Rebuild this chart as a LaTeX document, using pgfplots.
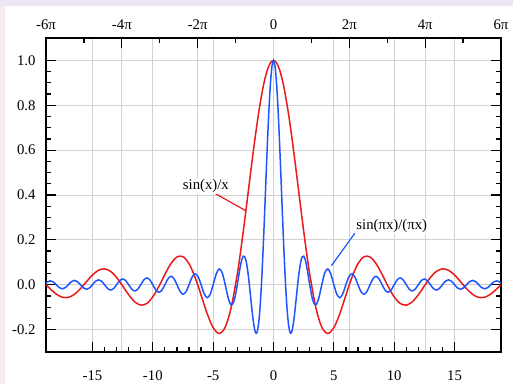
\documentclass[border=0pt]{standalone}
\usepackage{pgfplots}
\pgfplotsset{compat=1.18}
\usepackage{fontspec}
\setmainfont{Liberation Serif}
\definecolor{cred}{RGB}{235,25,25}
\definecolor{cblue}{RGB}{30,85,255}
\definecolor{gridc}{RGB}{210,210,210}
\definecolor{lav}{RGB}{236,230,246}
\definecolor{pinkish}{RGB}{249,234,242}
\newcommand{\fs}{\fontsize{14.8}{17}\selectfont}
\pgfplotstableread{
x y
-18.85 0.00000
-18.5 -0.01851
-18 -0.04172
-17.5 -0.05575
-17 -0.05655
-16.5 -0.04314
-16 -0.01799
-15.5 0.01332
-15 0.04335
-14.5 0.06448
-14 0.07076
-13.5 0.05954
-13 0.03232
-12.5 -0.00531
-12 -0.04471
-11.5 -0.07613
-11 -0.09091
-10.5 -0.08378
-10 -0.05440
-9.5 -0.00791
-9 0.04579
-8.5 0.09394
-8 0.12367
-7.5 0.12507
-7 0.09386
-6.5 0.03309
-6 -0.04657
-5.5 -0.12828
-5 -0.19178
-4.5 -0.21723
-4 -0.18920
-3.5 -0.10022
-3 0.04704
-2.75 0.13879
-2.5 0.23939
-2.25 0.34581
-2 0.45465
-1.75 0.56228
-1.5 0.66500
-1.25 0.75919
-1 0.84147
-0.75 0.90885
-0.5 0.95885
-0.25 0.98962
0 1
0.25 0.98962
0.5 0.95885
0.75 0.90885
1 0.84147
1.25 0.75919
1.5 0.66500
1.75 0.56228
2 0.45465
2.25 0.34581
2.5 0.23939
2.75 0.13879
3 0.04704
3.5 -0.10022
4 -0.18920
4.5 -0.21723
5 -0.19178
5.5 -0.12828
6 -0.04657
6.5 0.03309
7 0.09386
7.5 0.12507
8 0.12367
8.5 0.09394
9 0.04579
9.5 -0.00791
10 -0.05440
10.5 -0.08378
11 -0.09091
11.5 -0.07613
12 -0.04471
12.5 -0.00531
13 0.03232
13.5 0.05954
14 0.07076
14.5 0.06448
15 0.04335
15.5 0.01332
16 -0.01799
16.5 -0.04314
17 -0.05655
17.5 -0.05575
18 -0.04172
18.5 -0.01851
18.85 0.00000
}\sincx
\pgfplotstableread{
x y
-18.85 0.00767
-18.75 0.01200
-18.5 0.01721
-18.25 0.01233
-18 0
-17.75 -0.01268
-17.5 -0.01819
-17.25 -0.01305
-17 0
-16.75 0.01344
-16.5 0.01929
-16.25 0.01385
-16 0
-15.75 -0.01429
-15.5 -0.02054
-15.25 -0.01476
-15 0
-14.75 0.01526
-14.5 0.02195
-14.25 0.01580
-14 0
-13.75 -0.01637
-13.5 -0.02358
-13.25 -0.01699
-13 0
-12.75 0.01765
-12.5 0.02546
-12.25 0.01837
-12 0
-11.75 -0.01916
-11.5 -0.02768
-11.25 -0.02001
-11 0
-10.75 0.02094
-10.5 0.03032
-10.25 0.02196
-10 0
-9.75 -0.02309
-9.5 -0.03351
-9.25 -0.02433
-9 0
-8.75 0.02572
-8.5 0.03745
-8.25 0.02728
-8 0
-7.75 -0.02904
-7.5 -0.04244
-7.25 -0.03105
-7 0
-6.75 0.03335
-6.5 0.04897
-6.25 0.03601
-6 0
-5.75 -0.03914
-5.5 -0.05787
-5.25 -0.04287
-5 0
-4.75 0.04739
-4.5 0.07074
-4.25 0.05296
-4 0
-3.75 -0.06002
-3.5 -0.09095
-3.25 -0.06926
-3 0
-2.875 0.04237
-2.75 0.08185
-2.625 0.11203
-2.5 0.12732
-2.375 0.12382
-2.25 0.10004
-2.125 0.05732
-2 0
-1.875 -0.06497
-1.75 -0.12862
-1.625 -0.18097
-1.5 -0.21221
-1.375 -0.21388
-1.25 -0.18006
-1.125 -0.10828
-1 0
-0.875 0.13921
-0.75 0.30011
-0.625 0.47053
-0.5 0.63662
-0.375 0.78421
-0.25 0.90032
-0.125 0.97450
0 1
0.125 0.97450
0.25 0.90032
0.375 0.78421
0.5 0.63662
0.625 0.47053
0.75 0.30011
0.875 0.13921
1 0
1.125 -0.10828
1.25 -0.18006
1.375 -0.21388
1.5 -0.21221
1.625 -0.18097
1.75 -0.12862
1.875 -0.06497
2 0
2.125 0.05732
2.25 0.10004
2.375 0.12382
2.5 0.12732
2.625 0.11203
2.75 0.08185
2.875 0.04237
3 0
3.25 -0.06926
3.5 -0.09095
3.75 -0.06002
4 0
4.25 0.05296
4.5 0.07074
4.75 0.04739
5 0
5.25 -0.04287
5.5 -0.05787
5.75 -0.03914
6 0
6.25 0.03601
6.5 0.04897
6.75 0.03335
7 0
7.25 -0.03105
7.5 -0.04244
7.75 -0.02904
8 0
8.25 0.02728
8.5 0.03745
8.75 0.02572
9 0
9.25 -0.02433
9.5 -0.03351
9.75 -0.02309
10 0
10.25 0.02196
10.5 0.03032
10.75 0.02094
11 0
11.25 -0.02001
11.5 -0.02768
11.75 -0.01916
12 0
12.25 0.01837
12.5 0.02546
12.75 0.01765
13 0
13.25 -0.01699
13.5 -0.02358
13.75 -0.01637
14 0
14.25 0.01580
14.5 0.02195
14.75 0.01526
15 0
15.25 -0.01476
15.5 -0.02054
15.75 -0.01429
16 0
16.25 0.01385
16.5 0.01929
16.75 0.01344
17 0
17.25 -0.01305
17.5 -0.01819
17.75 -0.01268
18 0
18.25 0.01233
18.5 0.01721
18.75 0.01200
18.85 0.00767
}\sincpix
\begin{document}
\begin{tikzpicture}
\fill[white] (-46bp,-32bp) rectangle (467bp,352bp);
\fill[lav] (-46bp,346bp) rectangle (467bp,352bp);
\fill[pinkish] (-46bp,-32bp) rectangle (-41bp,346bp);
\pgfplotsset{
  common/.style={
    at={(0,0)}, anchor=south west, scale only axis,
    width=455bp, height=314bp,
    xmin=-18.8496, xmax=18.8496, ymin=-0.3, ymax=1.1,
    tick align=inside,
    major tick length=10bp, minor tick length=5bp,
    every tick/.style={black, line width=1.2bp},
    axis line style={line width=1.8bp},
    major grid style={gridc, line width=0.8bp},
    ticklabel style={font=\fs},
  }
}
% top axis (multiples of pi)
\begin{axis}[common,
  xtick={-18.8496,-12.5664,-6.2832,0,6.2832,12.5664,18.8496},
  xticklabels={-6π,-4π,-2π,0,2π,4π,6π},
  minor xtick={-15.708,-9.4248,-3.1416,3.1416,9.4248,15.708},
  xtick pos=right, xticklabel pos=right,
  xticklabel style={yshift=5bp},
  ytick=\empty,
  xmajorgrids,
]
\end{axis}
% main axis
\begin{axis}[common,
  xtick={-15,-10,-5,0,5,10,15},
  xticklabels={-15,-10,-5,0,5,10,15},
  minor x tick num=4,
  ytick={-0.2,0,0.2,0.4,0.6,0.8,1.0},
  yticklabels={-0.2,0.0,0.2,0.4,0.6,0.8,1.0},
  minor y tick num=3,
  xtick pos=left, xticklabel pos=left,
  ytick pos=both, yticklabel pos=left,
  xticklabel style={yshift=-15bp},
  yticklabel style={xshift=-7bp},
  xmajorgrids, ymajorgrids,
]
\addplot[cred, line width=1.5bp, smooth] table {\sincx};
\addplot[cblue, line width=1.5bp, smooth] table {\sincpix};
\draw[cred, line width=1.2bp] (axis cs:-4.95,0.41) -- (axis cs:-2.3,0.33);
\node[fill=white, inner sep=1.5bp, font=\fs] at (axis cs:-5.6,0.44) {sin(x)/x};
\draw[cblue, line width=1.2bp] (axis cs:6.75,0.23) -- (axis cs:4.8,0.085);
\node[fill=white, inner sep=1.5bp, font=\fs] at (axis cs:9.8,0.263) {sin(πx)/(πx)};
\end{axis}
\end{tikzpicture}
\end{document}
